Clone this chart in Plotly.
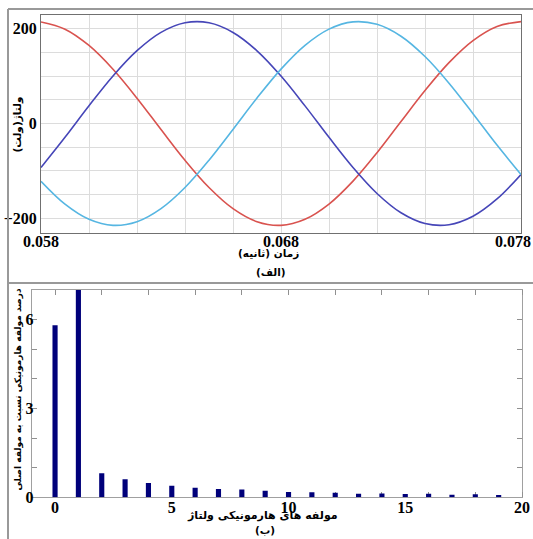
import plotly.graph_objects as go

# ---- data ----
time_s = [0.058, 0.059, 0.060, 0.061, 0.062, 0.063, 0.064, 0.065, 0.066, 0.067,
          0.068, 0.069, 0.070, 0.071, 0.072, 0.073, 0.074, 0.075, 0.076, 0.077, 0.078]
phase_red = [214.3, 199.0, 164.6, 114.5, 53.5, -12.7, -77.6, -135.1, -179.7, -207.2,
             -214.8, -202.0, -169.9, -121.5, -61.6, 4.2, 69.6, 128.4, 174.9, 204.7, 215.0]
phase_blue = [-92.6, -28.9, 37.5, 100.4, 153.6, 192.2, 212.4, 212.4, 192.1, 153.4,
              100.1, 37.2, -29.2, -92.8, -147.6, -188.3, -211.0, -213.5, -195.7, -159.2, -107.5]
phase_cyan = [-121.8, -170.1, -202.1, -214.8, -207.1, -179.5, -134.9, -77.3, -12.4, 53.7,
              114.7, 164.8, 199.1, 214.4, 209.2, 184.1, 141.3, 85.1, 20.8, -45.5, -107.5]

harmonic_order = list(range(20))
harmonic_pct = [5.81, 7.3, 0.81, 0.61, 0.48, 0.39, 0.32, 0.28, 0.26, 0.22,
                0.18, 0.17, 0.15, 0.12, 0.13, 0.11, 0.12, 0.09, 0.10, 0.08]

top_xticks = [0.058, 0.068, 0.078]
top_xlabels = ["0.058", "0.068", "0.078\u2007\u2007"]
top_yticks = [-200, 0, 200]
bot_xticks = [0, 5, 10, 15, 20]
bot_yticks = [0, 3, 6]

W, H = 533, 539
def px(x): return x / W
def py(y): return 1 - y / H

RLM = "\u200f"
def rtl(s): return RLM + s + RLM

num_font = dict(family="Liberation Serif", size=16, color="black", weight="bold")
fa_font = dict(family="DejaVu Sans", color="black", weight="bold")

fig = go.Figure()
for vals, col in [(phase_red, "#d9534f"), (phase_blue, "#4646b8"), (phase_cyan, "#56b6e2")]:
    fig.add_trace(go.Scatter(x=time_s, y=vals, mode="lines",
                             line=dict(color=col, width=1.6, shape="spline"),
                             xaxis="x", yaxis="y", showlegend=False, hoverinfo="skip"))

fig.add_trace(go.Bar(x=harmonic_order, y=harmonic_pct, width=0.22,
                     marker=dict(color="#00007a", line=dict(width=0)),
                     xaxis="x2", yaxis="y2", showlegend=False))

grid_col = "#dcdcdc"
fig.update_layout(
    template="none",
    width=W, height=H, autosize=False,
    margin=dict(l=0, r=0, t=0, b=0, pad=0),
    paper_bgcolor="white", plot_bgcolor="white",
    xaxis=dict(domain=[px(41), px(521)], range=[0.058, 0.078], automargin=False,
               tickvals=top_xticks, ticktext=top_xlabels, ticks="",
               tickfont=num_font, ticklabeloverflow="allow", ticklabelstandoff=-7,
               showgrid=True, gridcolor=grid_col, gridwidth=1,
               minor=dict(tick0=0.058, dtick=0.002, showgrid=True, gridcolor=grid_col, gridwidth=1),
               showline=True, mirror=True, linecolor="#707070", linewidth=1,
               zeroline=False, anchor="y"),
    yaxis=dict(domain=[py(233.3), py(15)], range=[-231.6, 228.9], automargin=False,
               tickvals=top_yticks, ticks="", tickfont=num_font, ticklabeloverflow="allow",
               showgrid=True, gridcolor=grid_col, gridwidth=1,
               minor=dict(tick0=0, dtick=50, showgrid=True, gridcolor=grid_col, gridwidth=1),
               showline=True, mirror=True, linecolor="#707070", linewidth=1,
               zeroline=False, anchor="x"),
    xaxis2=dict(domain=[px(31.7), px(522)], range=[-1, 20], automargin=False,
                tickvals=bot_xticks, ticks="", tickfont=num_font, ticklabeloverflow="allow",
                ticklabelstandoff=-5, layer="below traces",
                minor=dict(tick0=0, dtick=2, ticks="inside", ticklen=5, tickcolor="#909090"),
                showgrid=False, showline=True, mirror="ticks", linecolor="#a0a0a0", linewidth=1,
                zeroline=False, anchor="y2"),
    yaxis2=dict(domain=[py(497.3), py(290)], range=[0, 7], automargin=False,
                tickvals=bot_yticks, ticks="inside", ticklen=5, tickcolor="#909090",
                tickfont=num_font, ticklabelstandoff=-6, ticklabeloverflow="allow",
                layer="below traces",
                minor=dict(tick0=0, dtick=1, ticks="inside", ticklen=5, tickcolor="#909090"),
                showgrid=False, showline=True, mirror="ticks", linecolor="#a0a0a0", linewidth=1,
                zeroline=False, anchor="x2"),
)

ann = [
    (rtl("ولتاژ(ولت)"), 17.5, 125, 10.5, -90),
    (rtl("زمان (ثانیه)"), 268, 253, 10.5, 0),
    (rtl("(الف)"), 271, 272, 10.5, 0),
    (rtl("درصد مولفه هارمونیکی نسبت به مولفه اصلی"), 17.5, 390, 9, -90),
    (rtl("مولفه های هارمونیکی ولتاژ"), 262, 515, 11, 0),
    (rtl("(ب)"), 265, 530, 10.5, 0),
]
for text, x, y, size, ang in ann:
    fig.add_annotation(text=text, x=px(x), y=py(y), xref="paper", yref="paper",
                       showarrow=False, textangle=ang, xanchor="center", yanchor="middle",
                       font=dict(fa_font, size=size))

frame = dict(color="#999999", width=2)
fig.add_shape(type="line", xref="paper", yref="paper", x0=px(8), x1=1, y0=py(9), y1=py(9), line=frame)
fig.add_shape(type="line", xref="paper", yref="paper", x0=px(8), x1=px(8), y0=py(9), y1=0, line=frame)
fig.add_shape(type="line", xref="paper", yref="paper", x0=px(8), x1=1, y0=py(283), y1=py(283), line=frame)

fig.write_html("out.html", config={"displayModeBar": False},
               post_script="document.body.style.margin='0';document.body.style.overflow='hidden';")
